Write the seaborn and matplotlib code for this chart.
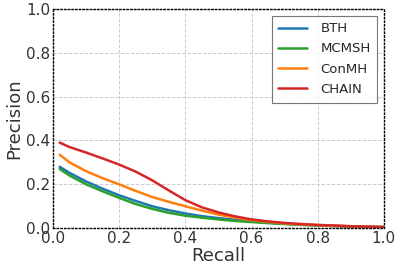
import matplotlib
matplotlib.use("Agg")
import matplotlib.pyplot as plt
import seaborn as sns
import pandas as pd

sns.set_style("whitegrid")

recall = [0.02, 0.05, 0.1, 0.15, 0.2, 0.25, 0.3, 0.35, 0.4, 0.45, 0.5,
          0.55, 0.6, 0.65, 0.7, 0.75, 0.8, 0.85, 0.9, 0.95, 1.0]
bth = [0.28, 0.252, 0.213, 0.18, 0.15, 0.124, 0.1, 0.082, 0.067, 0.055, 0.046,
       0.038, 0.031, 0.025, 0.02, 0.016, 0.013, 0.01, 0.008, 0.006, 0.005]
mcmsh = [0.27, 0.24, 0.2, 0.168, 0.138, 0.11, 0.088, 0.07, 0.057, 0.048, 0.04,
         0.033, 0.028, 0.023, 0.019, 0.015, 0.012, 0.01, 0.008, 0.006, 0.005]
conmh = [0.335, 0.3, 0.26, 0.228, 0.2, 0.17, 0.142, 0.12, 0.1, 0.08, 0.062,
         0.048, 0.037, 0.029, 0.022, 0.017, 0.014, 0.011, 0.009, 0.007, 0.005]
chain = [0.39, 0.37, 0.345, 0.318, 0.29, 0.258, 0.218, 0.172, 0.128, 0.095, 0.072,
         0.054, 0.04, 0.031, 0.024, 0.019, 0.015, 0.012, 0.009, 0.007, 0.005]

methods = ["BTH", "MCMSH", "ConMH", "CHAIN"]
colors = ["#1f77b4", "#2ca02c", "#ff7f0e", "#d62728"]

df = pd.DataFrame({"Recall": recall, "BTH": bth, "MCMSH": mcmsh,
                   "ConMH": conmh, "CHAIN": chain})
long = df.melt(id_vars="Recall", var_name="method", value_name="Precision")

fig, ax = plt.subplots(figsize=(3.99, 2.71), dpi=100)
sns.lineplot(data=long, x="Recall", y="Precision", hue="method",
             hue_order=methods, palette=colors, linewidth=1.8, ax=ax)

ax.set_xlim(0, 1)
ax.set_ylim(0, 1)
ax.set_xticks([0, 0.2, 0.4, 0.6, 0.8, 1.0])
ax.set_yticks([0, 0.2, 0.4, 0.6, 0.8, 1.0])
ax.grid(True, linestyle="--", color="#cccccc", linewidth=0.7)
for s in ax.spines.values():
    s.set_color("black")
    s.set_linestyle(":")
    s.set_linewidth(1.0)
ax.tick_params(labelsize=11, length=0, pad=2, colors="#333333")
ax.set_xlabel("Recall", fontsize=13, color="#333333", labelpad=1)
ax.set_ylabel("Precision", fontsize=13, color="#333333", labelpad=2)

leg = ax.legend(loc="upper right", fontsize=9.5, frameon=True, fancybox=False,
                edgecolor="#555555", handlelength=2.2, borderpad=0.5,
                labelspacing=0.55, handletextpad=1.0)
leg.get_frame().set_linewidth(0.8)

fig.subplots_adjust(left=0.133, right=0.962, top=0.967, bottom=0.158)
fig.savefig("out.png", dpi=100)
